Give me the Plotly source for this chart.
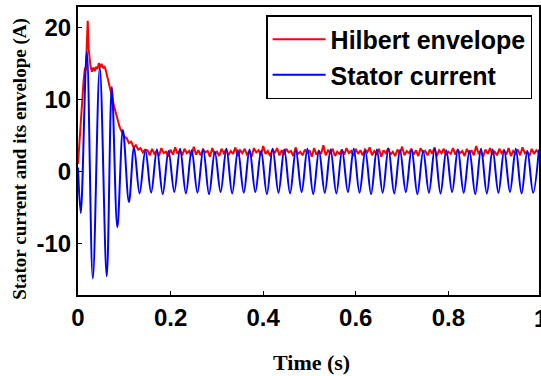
import plotly.graph_objects as go

# ---------------- data ----------------
# Hilbert envelope: transient part (time in s, value in A)
env_trans_t = [0, 0.003, 0.006, 0.009, 0.012, 0.015, 0.017, 0.019, 0.021, 0.023,
               0.025, 0.027, 0.030, 0.033, 0.036, 0.039, 0.042, 0.045, 0.048, 0.051,
               0.054, 0.057, 0.060, 0.063, 0.066, 0.070, 0.074, 0.078, 0.082, 0.086,
               0.090, 0.095, 0.100, 0.105, 0.110, 0.115, 0.120, 0.125, 0.130, 0.135,
               0.140, 0.145]
env_trans_v = [1.0, 4.0, 7.5, 10.0, 12.5, 14.4, 14.0, 17.5, 20.9, 17.0,
               15.2, 14.6, 13.8, 14.4, 13.9, 14.5, 14.2, 15.0, 14.4, 14.9,
               14.3, 14.6, 14.0, 13.2, 12.6, 11.6, 10.2, 9.0, 7.9, 6.8,
               6.1, 5.4, 4.8, 4.6, 3.9, 4.1, 3.3, 3.6, 3.0, 3.2,
               2.6, 3.0]
# Hilbert envelope: steady part, sampled every env_dt from env_t0
env_t0 = 0.15
env_dt = 0.005
env_steady_v = [
    2.9, 2.2, 3.1, 2.4, 2.8, 2.1, 3.2, 2.5, 2.7, 2.0, 3.0, 2.3, 3.3, 2.4, 2.9, 2.2, 3.1,
    2.5, 2.8, 2.1, 3.4, 2.3, 2.9, 2.2, 3.0, 2.6, 2.8, 2.0, 3.2, 2.4, 2.7, 2.1, 3.1, 2.5,
    3.0, 2.2, 2.8, 2.4, 3.3, 2.1, 2.9, 2.5, 3.1, 2.3, 2.7, 2.0, 3.2, 2.6, 2.9, 2.2, 3.5,
    2.4, 2.8, 2.1, 3.0, 2.5, 3.2, 2.2, 2.9, 2.3, 3.1, 2.6, 2.8, 2.1, 3.3, 2.4, 2.7, 2.2,
    3.0, 2.5, 2.9, 2.0, 3.2, 2.3, 2.8, 2.4, 3.6, 2.2, 2.9, 2.5, 3.1, 2.1, 2.7, 2.4, 3.0,
    2.3, 3.2, 2.5, 2.8, 2.1, 3.1, 2.4, 2.9, 2.2, 3.0, 2.6, 3.3, 2.2, 2.8, 2.4, 3.1, 2.0,
    2.9, 2.5, 3.2, 2.3, 2.7, 2.1, 3.0, 2.4, 3.4, 2.2, 2.8, 2.5, 3.1, 2.3, 2.9, 2.1, 3.2,
    2.6, 2.8, 2.2, 3.0, 2.4, 3.3, 2.1, 2.9, 2.5, 3.1, 2.2, 2.7, 2.4, 3.2, 2.3, 3.0, 2.5,
    2.8, 2.1, 3.1, 2.4, 2.9, 2.2, 3.5, 2.5, 2.8, 2.0, 3.0, 2.4, 3.2, 2.3, 2.7, 2.2, 3.1,
    2.5, 2.9, 2.3, 3.2, 2.1, 2.8, 2.4, 3.0, 2.2, 3.3, 2.5, 2.7, 2.1, 3.1, 2.4, 2.9, 2.6,
]

# Stator current: transient extrema
cur_trans_t = [0, 0.006, 0.019, 0.032, 0.047, 0.062, 0.073, 0.085, 0.097, 0.110, 0.121, 0.133]
cur_trans_v = [0.5, -5.8, 16.6, -14.9, 14.4, -14.6, 11.7, -7.8, 5.7, -4.3, 3.3, -3.1]
# Stator current: steady-state peaks / troughs (period cur_period)
cur_period = 0.025
cur_peak_t0 = 0.1455
cur_trough_t0 = 0.158
cur_peaks = [2.9, 3.0, 2.8, 3.1, 2.9, 3.0, 2.7, 3.1, 2.9, 3.0, 2.8, 3.1, 3.0, 2.9, 3.1, 2.8, 3.0,
             2.9, 3.1, 2.8, 3.0, 3.1, 2.9, 3.0, 2.8, 3.1, 2.9, 3.0, 2.8, 3.1, 3.0, 2.9, 3.1, 2.8, 3.0]
cur_troughs = [-3.0, -3.2, -2.9, -3.1, -3.0, -3.2, -2.9, -3.1, -3.0, -2.9, -3.2, -3.0, -3.1, -2.9,
               -3.2, -3.0, -3.1, -2.9, -3.0, -3.2, -3.0, -3.1, -2.9, -3.2, -3.0, -3.1, -2.9, -3.0,
               -3.2, -3.1, -3.0, -2.9, -3.1, -3.0]

x_ticks = [0, 0.2, 0.4, 0.6, 0.8, 1]
x_ticklabels = ["0", "0.2", "0.4", "0.6", "0.8", "1"]
y_ticks = [-10, 0, 10, 20]
y_ticklabels = ["-10", "0", "10", "20"]

# visible part of the time axis (the original figure is cropped just before t = 1)
x_view = [0, 0.9957]

# ---------------- assemble series ----------------
env_t = list(env_trans_t) + [round(env_t0 + i * env_dt, 4) for i in range(len(env_steady_v))]
env_v = list(env_trans_v) + list(env_steady_v)

cur_t = list(cur_trans_t)
cur_v = list(cur_trans_v)
for k in range(len(cur_peaks)):
    cur_t.append(round(cur_peak_t0 + k * cur_period, 4))
    cur_v.append(cur_peaks[k])
    if k < len(cur_troughs):
        cur_t.append(round(cur_trough_t0 + k * cur_period, 4))
        cur_v.append(cur_troughs[k])

fig = go.Figure()
fig.add_trace(go.Scatter(x=env_t, y=env_v, mode="lines", name="Hilbert envelope",
                         line=dict(color="#ff0000", width=2)))
fig.add_trace(go.Scatter(x=cur_t, y=cur_v, mode="lines", name="Stator current",
                         line=dict(color="#0000ff", width=2, shape="spline", smoothing=1.0)))

tickfont = dict(family="Liberation Sans, Arial, sans-serif", size=24, color="black", weight="bold")

# tick labels that fall past the cropped right edge are drawn as text annotations
ann = []
for tv, tl in zip(x_ticks, x_ticklabels):
    if tv > x_view[1]:
        ann.append(dict(text=tl, xref="paper", yref="paper",
                        x=(tv - x_view[0]) / (x_view[1] - x_view[0]), y=-(318 - 295) / 288,
                        xanchor="center", yanchor="middle", showarrow=False,
                        font=tickfont))

fig.update_layout(
    width=541, height=376,
    margin=dict(l=78, r=0, t=7, b=81),
    paper_bgcolor="white", plot_bgcolor="white",
    showlegend=True,
    legend=dict(
        x=0.408, y=0.972, xanchor="left", yanchor="top",
        bgcolor="white", bordercolor="black", borderwidth=1.5,
        font=dict(family="Liberation Sans, Arial, sans-serif", size=25, color="black", weight="bold"),
        tracegroupgap=0, itemwidth=53,
    ),
    xaxis=dict(range=x_view, tickvals=x_ticks, ticktext=x_ticklabels,
               showgrid=False, zeroline=False, showline=True, linecolor="black", linewidth=2,
               mirror=True, ticks="inside", ticklen=4, tickcolor="black", tickwidth=1,
               tickfont=tickfont, ticklabeloverflow="allow"),
    yaxis=dict(range=[-17.2, 22.8], tickvals=y_ticks, ticktext=y_ticklabels,
               showgrid=False, zeroline=False, showline=True, linecolor="black", linewidth=2,
               mirror=True, ticks="inside", ticklen=4, tickcolor="black", tickwidth=1,
               tickfont=tickfont),
    annotations=ann + [
        dict(text="<b>Stator current and its envelope (A)</b>", textangle=-90,
             xref="paper", yref="paper", x=-0.125, y=0.474, xanchor="center", yanchor="middle",
             showarrow=False,
             font=dict(family="Liberation Serif, Times New Roman, serif", size=19, color="black")),
        dict(text="<b>Time (s)</b>",
             xref="paper", yref="paper", x=(313 - 78) / 463, y=-(362 - 295) / 288,
             xanchor="center", yanchor="middle", showarrow=False,
             font=dict(family="Liberation Serif, Times New Roman, serif", size=22, color="black")),
    ],
)

fig.write_html("out.html")
